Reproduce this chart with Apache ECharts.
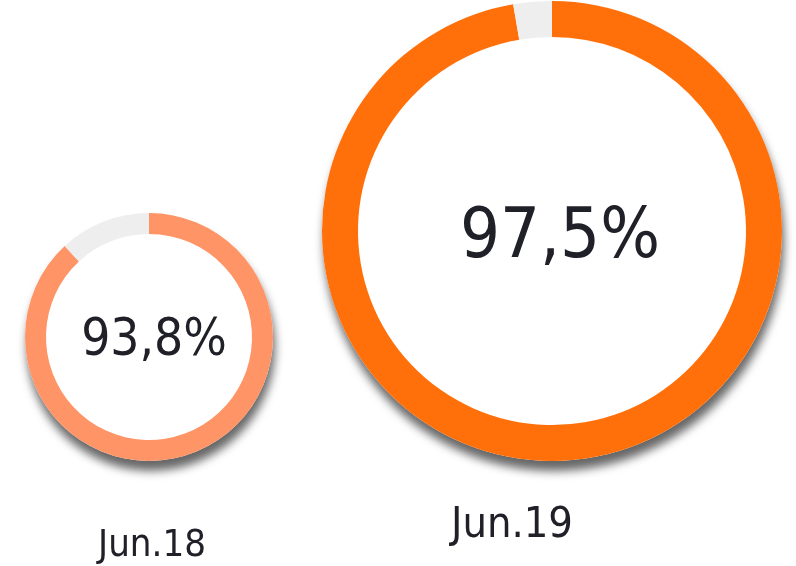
<!DOCTYPE html>
<html>
<head>
<meta charset="utf-8">
<script src="https://cdn.jsdelivr.net/npm/echarts@6/dist/echarts.min.js"></script>
<style>
html, body { margin: 0; padding: 0; background: #fff; }
#main { width: 796px; height: 566px; }
</style>
</head>
<body>
<div id="main"></div>
<script>
// 两个年度的完成率环形图
var periods = ['Jun.18', 'Jun.19'];
var pctLabels = ['93,8%', '97,5%'];
var filled = [88.1, 97.3];
var rest = [11.9, 2.7];

var FONT = '"DejaVu Sans Condensed", "Noto Sans", sans-serif';
var ringColors = ['#ff9466', '#ff700a'];
var centers = [[149, 337], [552, 231]];
var radii = [[103, 124], [194, 230]];
var pctSize = [51, 70];
var pctShift = [[5, 5], [8, 8]];
var nameXY = [[152, 546], [512, 526]];
var nameSize = [38, 43];

var chart = echarts.init(document.getElementById('main'));

var series = [];
var graphics = [];
for (var i = 0; i < periods.length; i++) {
    // 白色底盘 + 阴影
    series.push({
        type: 'pie',
        silent: true,
        z: 1,
        center: centers[i],
        radius: [0, radii[i][1]],
        label: { show: false },
        labelLine: { show: false },
        itemStyle: {
            color: '#fff',
            shadowBlur: 10,
            shadowOffsetX: 2,
            shadowOffsetY: 10,
            shadowColor: 'rgba(0,0,0,0.6)'
        },
        data: [{ value: 1, name: 'bg' + i }]
    });
    series.push({
        type: 'pie',
        name: periods[i],
        silent: true,
        z: 2,
        center: centers[i],
        radius: radii[i],
        startAngle: 90,
        clockwise: true,
        labelLine: { show: false },
        labelLayout: { dx: pctShift[i][0], dy: pctShift[i][1] },
        emphasis: { disabled: true },
        data: [
            {
                value: filled[i],
                name: periods[i],
                itemStyle: { color: ringColors[i] },
                label: {
                    show: true,
                    position: 'center',
                    formatter: pctLabels[i],
                    fontFamily: FONT,
                    fontSize: pctSize[i],
                    color: '#202028'
                }
            },
            {
                value: rest[i],
                name: 'rest',
                itemStyle: { color: '#eeeeee' },
                label: { show: false }
            }
        ]
    });
    graphics.push({
        type: 'text',
        x: nameXY[i][0],
        y: nameXY[i][1],
        style: {
            text: periods[i],
            fontFamily: FONT,
            fontSize: nameSize[i],
            fill: '#202028',
            align: 'center',
            verticalAlign: 'middle'
        }
    });
}

chart.setOption({
    animation: false,
    series: series,
    graphic: graphics
});
</script>
</body>
</html>
